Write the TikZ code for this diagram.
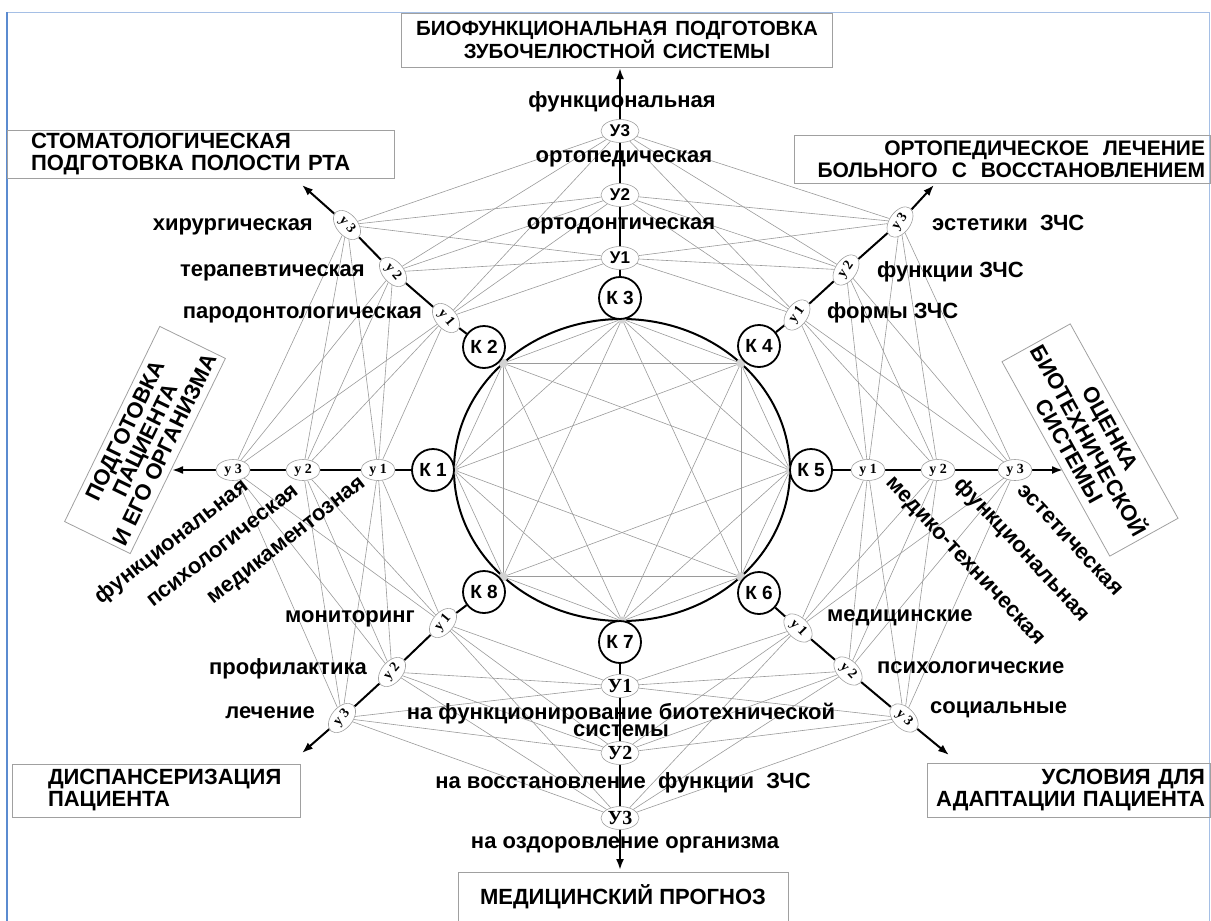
\documentclass[tikz,border=0pt]{standalone}
\usepackage{fontspec}
\setmainfont{Liberation Sans}
\newfontfamily\tnr{Liberation Serif}
\usetikzlibrary{shapes.geometric,arrows.meta,calc}
\pgfdeclarelayer{bg}
\pgfsetlayers{bg,main}
\definecolor{frameblue}{HTML}{5B8BD0}
\definecolor{webgray}{HTML}{9A9A9A}
\definecolor{boxgray}{HTML}{A0A0A0}
\begin{document}
\begin{tikzpicture}[x=1pt,y=-1pt,
  web/.style={webgray, line width=0.6pt},
  spoke/.style={black, line width=2pt},
  arr/.style={spoke, -{Latex[length=11pt,width=8pt]}},
  knode/.style={circle, draw, line width=1.8pt, fill=white, minimum size=42pt, inner sep=0pt, font=\bfseries\fontsize{19}{19}\selectfont},
  ubig/.style={ellipse, draw=boxgray, line width=0.6pt, fill=white, minimum width=38pt, minimum height=23pt, inner sep=0pt, font=\bfseries\fontsize{17}{17}\selectfont},
  ubot/.style={ubig, font=\tnr\bfseries\fontsize{20}{20}\selectfont},
  usm/.style={ellipse, draw=boxgray, line width=0.6pt, fill=white, minimum width=34pt, minimum height=21pt, inner sep=0pt, font=\tnr\bfseries\fontsize{14}{14}\selectfont},
  lab/.style={font=\bfseries\fontsize{22}{22}\selectfont, inner sep=0pt},
  obox/.style={draw=boxgray, line width=0.8pt, font=\bfseries\fontsize{22}{22}\selectfont, inner ysep=0pt},
]
\useasboundingbox (0,0) rectangle (1211,921);
% frame
\draw[frameblue!55, line width=0.8pt] (7,921) -- (7,12) -- (1209,12) -- (1209,921);
\draw[frameblue, line width=2pt] (7,12) -- (7,921);

% points on the ring
\foreach \k/\a in {1/180,2/135,3/90,4/45,5/0,6/-45,7/-90,8/-135}
  \coordinate (p\k) at ({622+168*cos(\a)},{470-151*sin(\a)});

% K nodes
\node[knode] (K1) at (433,470) {К 1};
\node[knode] (K2) at (484,347) {К 2};
\node[knode] (K3) at (620,298) {К 3};
\node[knode] (K4) at (759,346) {К 4};
\node[knode] (K5) at (811,470) {К 5};
\node[knode] (K6) at (759,593) {К 6};
\node[knode] (K7) at (620,642) {К 7};
\node[knode] (K8) at (484,592) {К 8};

% level nodes
\node[usm] (u11) at (378,470) {у 1};
\node[usm] (u12) at (303,470) {у 2};
\node[usm] (u13) at (233,470) {у 3};
\coordinate (t1) at (172,470);

\node[usm, rotate=-50] (u21) at (446,318) {у 1};
\node[usm, rotate=-50] (u22) at (393,272) {у 2};
\node[usm, rotate=-50] (u23) at (347,225) {у 3};
\coordinate (t2) at (302,185);

\node[ubig] (u31) at (620,258) {У1};
\node[ubig] (u32) at (620,195) {У2};
\node[ubig] (u33) at (620,131) {У3};
\coordinate (t3) at (620,68);

\node[usm, rotate=55] (u41) at (797,315) {у 1};
\node[usm, rotate=55] (u42) at (846,270) {у 2};
\node[usm, rotate=55] (u43) at (900,222) {у 3};
\coordinate (t4) at (934,185);

\node[usm] (u51) at (868,470) {у 1};
\node[usm] (u52) at (938,470) {у 2};
\node[usm] (u53) at (1015,470) {у 3};
\coordinate (t5) at (1063,470);

\node[usm, rotate=-45] (u61) at (798,628) {у 1};
\node[usm, rotate=-45] (u62) at (848,671) {у 2};
\node[usm, rotate=-45] (u63) at (904,718) {у 3};
\coordinate (t6) at (949,755);

\node[ubot] (u71) at (620,686) {У1};
\node[ubot] (u72) at (620,753) {У2};
\node[ubot] (u73) at (620,818) {У3};
\coordinate (t7) at (620,870);

\node[usm, rotate=50] (u81) at (443,623) {у 1};
\node[usm, rotate=50] (u82) at (392,672) {у 2};
\node[usm, rotate=50] (u83) at (342,718) {у 3};
\coordinate (t8) at (302,753);

\begin{pgfonlayer}{bg}
  % chords
  \foreach \i in {1,...,8}{
    \foreach \j in {1,...,8}{
      \pgfmathtruncatemacro\d{\j-\i}
      \ifnum\d>0 \ifnum\d=4 \else \draw[web] (p\i) -- (p\j); \fi\fi
    }
  }
  \draw[line width=2pt] (622,470) ellipse [x radius=168pt, y radius=151pt];
  \foreach \k in {1,...,8} \fill[gray!35] (p\k) circle (4.5pt);
  % web between neighbouring spokes
  \foreach \s/\t in {1/2,2/3,3/4,4/5,5/6,6/7,7/8,8/1}
    \foreach \a in {1,2,3}
      \foreach \b in {1,2,3}
        \draw[web] (u\s\a) -- (u\t\b);
  % spokes
  \foreach \s in {1,...,8}{
    \draw[spoke] (K\s) -- (u\s1);
    \draw[spoke] (u\s1) -- (u\s2);
    \draw[spoke] (u\s2) -- (u\s3);
    \draw[arr] (u\s3) -- (t\s);
  }
\end{pgfonlayer}

% boxes
\node[obox, align=center, minimum width=431pt, minimum height=54pt, font=\bfseries\fontsize{20.5}{22}\selectfont] (bT) at (617,40)
  {БИОФУНКЦИОНАЛЬНАЯ\hspace{8pt}ПОДГОТОВКА\\ЗУБОЧЕЛЮСТНОЙ\hspace{8pt}СИСТЕМЫ};
\node[obox, align=left, text width=339pt, inner xsep=24pt, minimum height=48pt] (bTL) at (200.5,154)
  {СТОМАТОЛОГИЧЕСКАЯ\\ПОДГОТОВКА ПОЛОСТИ РТА};
\node[obox, align=right, text width=406pt, inner xsep=5pt, minimum height=48pt, font=\bfseries\fontsize{21}{22}\selectfont] (bTR) at (1002,159)
  {ОРТОПЕДИЧЕСКОЕ~~ЛЕЧЕНИЕ\\БОЛЬНОГО~~С~~ВОССТАНОВЛЕНИЕМ};
\node[obox, align=center, rotate=64, minimum width=200pt, minimum height=73pt] (bL) at (145,440)
  {ПОДГОТОВКА\\ПАЦИЕНТА\\И ЕГО ОРГАНИЗМА};
\node[obox, align=center, rotate=-61, minimum width=205pt, minimum height=78pt] (bR) at (1090,440)
  {ОЦЕНКА\\БИОТЕХНИЧЕСКОЙ\\СИСТЕМЫ};
\node[obox, align=left, text width=216pt, inner xsep=36pt, minimum height=53pt] (bBL) at (156,790.5)
  {ДИСПАНСЕРИЗАЦИЯ\\ПАЦИЕНТА};
\node[obox, align=right, text width=273pt, inner xsep=5pt, minimum height=54pt] (bBR) at (1068.5,790)
  {УСЛОВИЯ ДЛЯ\\АДАПТАЦИИ ПАЦИЕНТА};
\node[obox, minimum width=330pt, minimum height=50pt] (bB) at (623,897) {МЕДИЦИНСКИЙ ПРОГНОЗ};

% labels
\node[lab] (l33) at (622,102) {функциональная};
\node[lab] (l32) at (624,159) {ортопедическая};
\node[lab] (l31) at (621,226) {ортодонтическая};
\node[lab, anchor=east] (l23) at (313,227) {хирургическая};
\node[lab, anchor=east] (l22) at (365,273) {терапевтическая};
\node[lab, anchor=east] (l21) at (422,315) {пародонтологическая};
\node[lab, anchor=west] (l43) at (932,223) {эстетики~~ЗЧС};
\node[lab, anchor=west] (l42) at (877,272) {функции ЗЧС};
\node[lab, anchor=west] (l41) at (827,313) {формы ЗЧС};
\node[lab, rotate=38] (l13) at (172,542) {функциональная};
\node[lab, rotate=38] (l12) at (223,546) {психологическая};
\node[lab, rotate=38] (l11) at (288,542) {медикаментозная};
\node[lab, rotate=-47] (l51) at (964,562) {медико-техническая};
\node[lab, rotate=-47] (l52) at (1022,550) {функциональная};
\node[lab, rotate=-47] (l53) at (1070,540) {эстетическая};
\node[lab, anchor=east] (l81) at (415,619) {мониторинг};
\node[lab, anchor=east] (l82) at (367,669) {профилактика};
\node[lab, anchor=east] (l83) at (315,713) {лечение};
\node[lab, anchor=west] (l61) at (827,618) {медицинские};
\node[lab, anchor=west] (l62) at (877,668) {психологические};
\node[lab, anchor=west] (l63) at (930,710) {социальные};
\node[lab, align=center, font=\bfseries\fontsize{22}{15}\selectfont] (l71) at (621,720) {на функционирование биотехнической\\системы};
\node[lab] (l72) at (623,783) {на восстановление~~функции~~ЗЧС};
\node[lab] (l73) at (625,845) {на оздоровление организма};
\end{tikzpicture}
\end{document}
